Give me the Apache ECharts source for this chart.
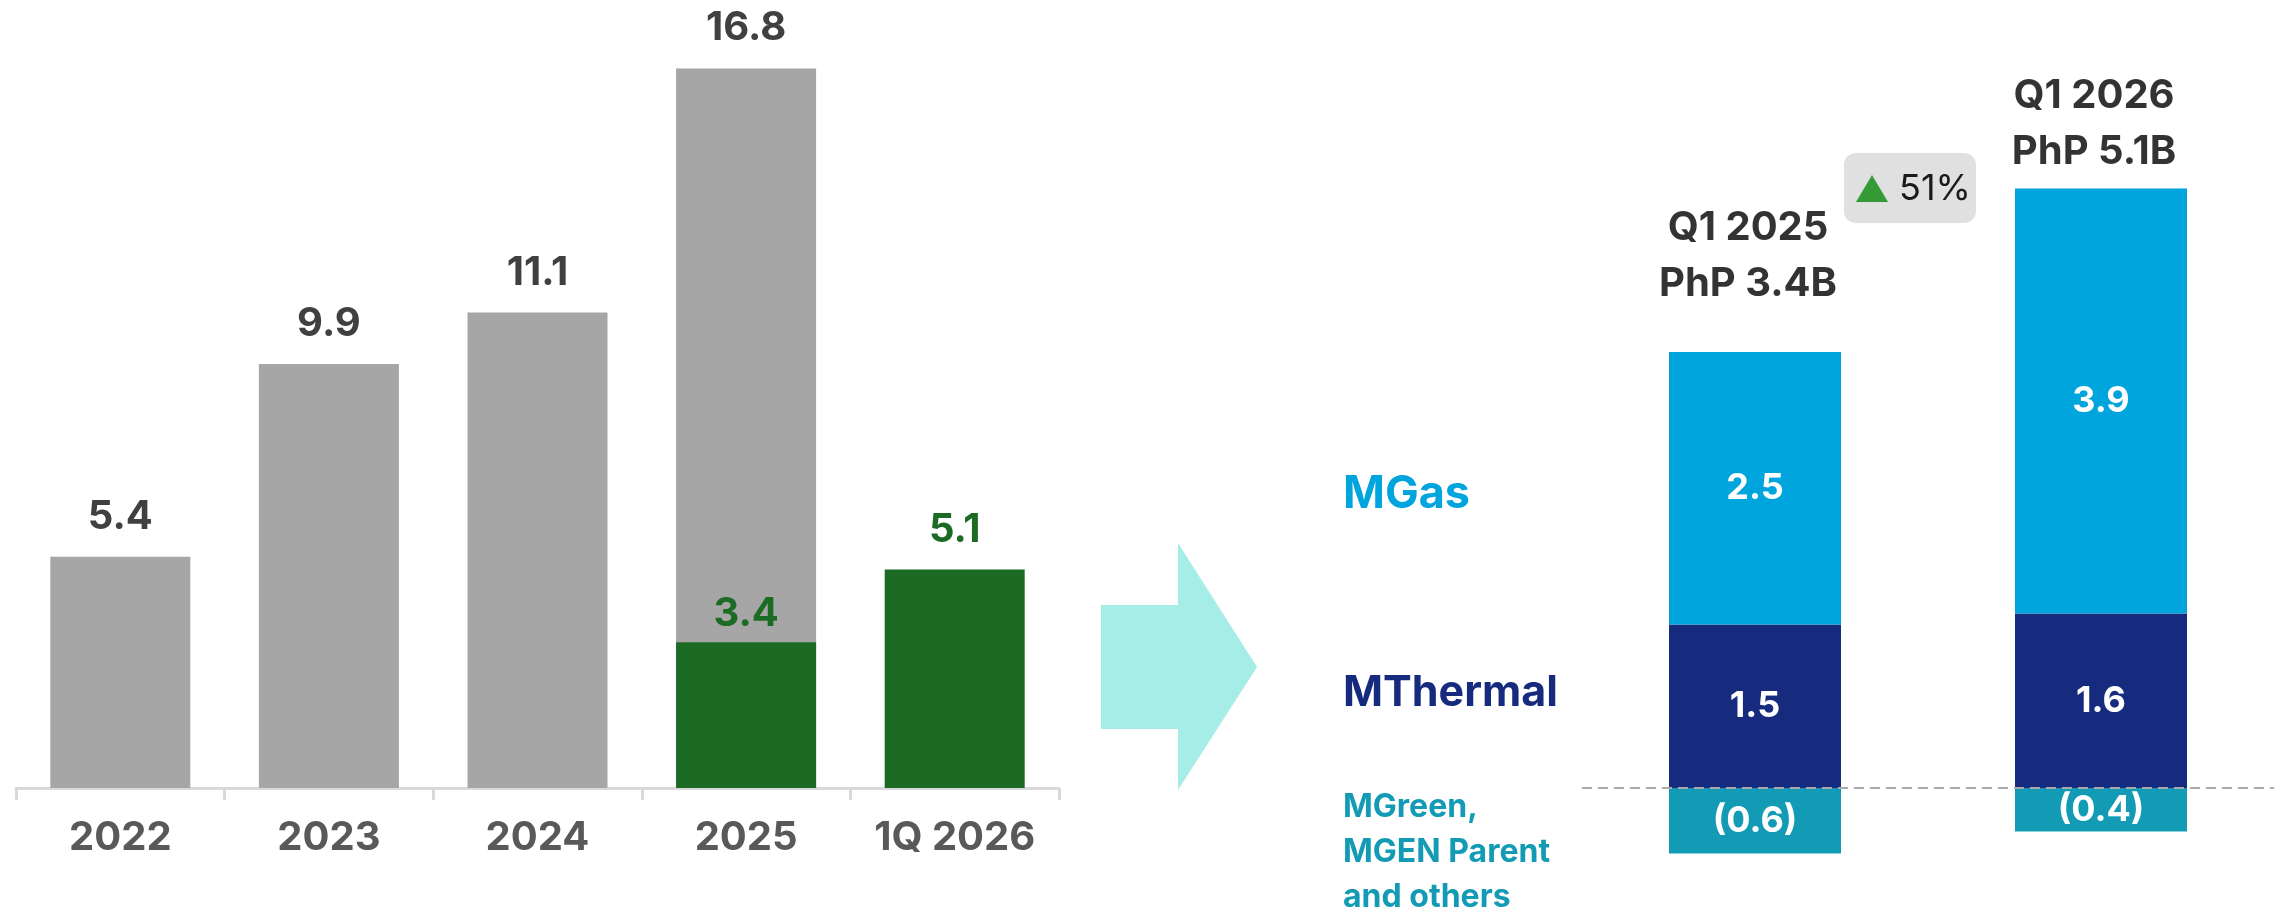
<!DOCTYPE html>
<html>
<head>
<meta charset="utf-8">
<script src="https://cdn.jsdelivr.net/npm/echarts@6/dist/echarts.min.js"></script>
<style>
  html, body { margin: 0; padding: 0; background: #ffffff; }
  #cv { width: 2275px; height: 910px; }
</style>
</head>
<body>
<div id="cv"></div>
<script>
// left panel: yearly core net income (PhP B)
var years = ['2022', '2023', '2024', '2025', '1Q 2026'];
var yearTotals = [5.4, 9.9, 11.1, 16.8, null];
var q1Totals = [null, null, null, 3.4, 5.1];

// right panel: Q1 breakdown by business
var periods = ['Q1 2025', 'Q1 2026'];
var periodNet = [3.4, 5.1];
var mthermal = [1.5, 1.6];
var mgas = [2.5, 3.9];
var others = [-0.6, -0.4];
var segmentNames = ['MGas', 'MThermal', 'MGreen,\nMGEN Parent\nand others'];
var growthText = '51%';

var FONT = 'Inter, "Liberation Sans", Arial, sans-serif';
var GRAY = '#a6a6a6', GREEN = '#1b6b25';
var C_GAS = '#00a5dd', C_THERMAL = '#172b7e', C_OTHER = '#139bb5';

var chart = echarts.init(document.getElementById('cv'), null, { renderer: 'canvas' });

function fmt(v) {
  return v < 0 ? '(' + Math.abs(v).toFixed(1) + ')' : v.toFixed(1);
}

// the 2025 Q1 label sits lower, right on the grey bar
var q1Data = q1Totals.map(function (v, i) {
  return i === 3 ? { value: v, label: { distance: 8 } } : v;
});

// label sitting on the top of each stacked column
var stackTops = periods.map(function (p, i) {
  return {
    value: mthermal[i] + mgas[i],
    label: { distance: i === 0 ? 40 : 8 }
  };
});

var option = {
  animation: false,
  backgroundColor: '#ffffff',
  grid: [
    { left: 16, width: 1043, top: 17, height: 771 },
    { left: 1582, right: 1, top: 25, height: 872 }
  ],
  xAxis: [
    {
      type: 'category', gridIndex: 0, data: years,
      axisLine: { lineStyle: { color: '#d9d9d9', width: 3 } },
      axisTick: { show: true, length: 12, lineStyle: { color: '#d9d9d9', width: 3 } },
      axisLabel: { interval: 0, color: '#595959', fontSize: 40, fontWeight: 'bold', fontFamily: FONT, margin: 30 }
    },
    {
      type: 'category', gridIndex: 1, data: periods,
      axisLine: { show: false }, axisTick: { show: false }, axisLabel: { show: false }
    }
  ],
  yAxis: [
    { type: 'value', gridIndex: 0, min: 0, max: 18, show: false, splitLine: { show: false } },
    { type: 'value', gridIndex: 1, min: -1, max: 7, show: false, splitLine: { show: false } }
  ],
  series: [
    {
      name: 'Full year', type: 'bar', xAxisIndex: 0, yAxisIndex: 0,
      data: yearTotals, barWidth: 140, barGap: '-100%',
      itemStyle: { color: GRAY },
      label: {
        show: true, position: 'top', distance: 20, color: '#404040',
        fontSize: 40, fontWeight: 'bold', fontFamily: FONT,
        formatter: function (p) { return fmt(p.value); }
      }
    },
    {
      name: 'Q1', type: 'bar', xAxisIndex: 0, yAxisIndex: 0,
      data: q1Data, barWidth: 140, barGap: '-100%',
      itemStyle: { color: GREEN },
      label: {
        show: true, position: 'top', distance: 20, color: GREEN,
        fontSize: 40, fontWeight: 'bold', fontFamily: FONT,
        formatter: function (p) { return fmt(p.value); }
      }
    },
    {
      name: 'MThermal', type: 'bar', xAxisIndex: 1, yAxisIndex: 1, stack: 'q',
      data: mthermal, barWidth: 172,
      itemStyle: { color: C_THERMAL },
      label: {
        show: true, position: 'inside', color: '#ffffff',
        fontSize: 36, fontWeight: 'bold', fontFamily: FONT,
        formatter: function (p) { return fmt(p.value); }
      }
    },
    {
      name: 'MGas', type: 'bar', xAxisIndex: 1, yAxisIndex: 1, stack: 'q',
      data: mgas, barWidth: 172,
      itemStyle: { color: C_GAS },
      label: {
        show: true, position: 'inside', color: '#ffffff',
        fontSize: 36, fontWeight: 'bold', fontFamily: FONT,
        formatter: function (p) { return fmt(p.value); }
      }
    },
    {
      name: 'Others', type: 'bar', xAxisIndex: 1, yAxisIndex: 1, stack: 'q',
      data: others, barWidth: 172,
      itemStyle: { color: C_OTHER },
      label: {
        show: true, position: 'inside', color: '#ffffff',
        fontSize: 36, fontWeight: 'bold', fontFamily: FONT,
        formatter: function (p) { return fmt(p.value); }
      },
      markLine: {
        silent: true, symbol: 'none', label: { show: false },
        lineStyle: { color: '#aaaaaa', type: [10, 6], width: 2 },
        data: [{ yAxis: 0 }]
      },
      z: 3
    },
    {
      name: 'Totals', type: 'scatter', xAxisIndex: 1, yAxisIndex: 1,
      data: stackTops, symbolSize: 1,
      itemStyle: { color: 'rgba(0,0,0,0)' },
      label: {
        show: true, position: 'top', offset: [-7, 0], color: '#000000',
        fontSize: 40, fontWeight: 'bold', fontFamily: FONT, lineHeight: 56,
        align: 'center',
        formatter: function (p) {
          return periods[p.dataIndex] + '\nPhP ' + periodNet[p.dataIndex].toFixed(1) + 'B';
        }
      }
    }
  ],
  graphic: [
    {
      type: 'polygon',
      shape: { points: [[1101, 605], [1178, 605], [1178, 543], [1257, 667], [1178, 790], [1178, 729], [1101, 729]] },
      style: { fill: '#a6ece7' }
    },
    {
      type: 'rect',
      shape: { x: 1844, y: 153, width: 132, height: 70, r: 12 },
      style: { fill: '#e0e0e0' }
    },
    {
      type: 'polygon',
      shape: { points: [[1856, 202], [1888, 202], [1872, 175]] },
      style: { fill: '#339a35' }
    },
    {
      type: 'text', x: 1899, y: 189,
      style: { text: growthText, fill: '#1a1a1a', fontSize: 36, fontFamily: FONT, verticalAlign: 'middle' }
    },
    {
      type: 'text', x: 1343, y: 494,
      style: { text: segmentNames[0], fill: C_GAS, fontSize: 45, fontWeight: 'bold', fontFamily: FONT, verticalAlign: 'middle' }
    },
    {
      type: 'text', x: 1343, y: 693,
      style: { text: segmentNames[1], fill: C_THERMAL, fontSize: 43, fontWeight: 'bold', fontFamily: FONT, verticalAlign: 'middle' }
    },
    {
      type: 'text', x: 1343, y: 852,
      style: { text: segmentNames[2], fill: C_OTHER, fontSize: 32, fontWeight: 'bold', fontFamily: FONT, verticalAlign: 'middle', lineHeight: 45 }
    }
  ]
};

chart.setOption(option);
</script>
</body>
</html>
